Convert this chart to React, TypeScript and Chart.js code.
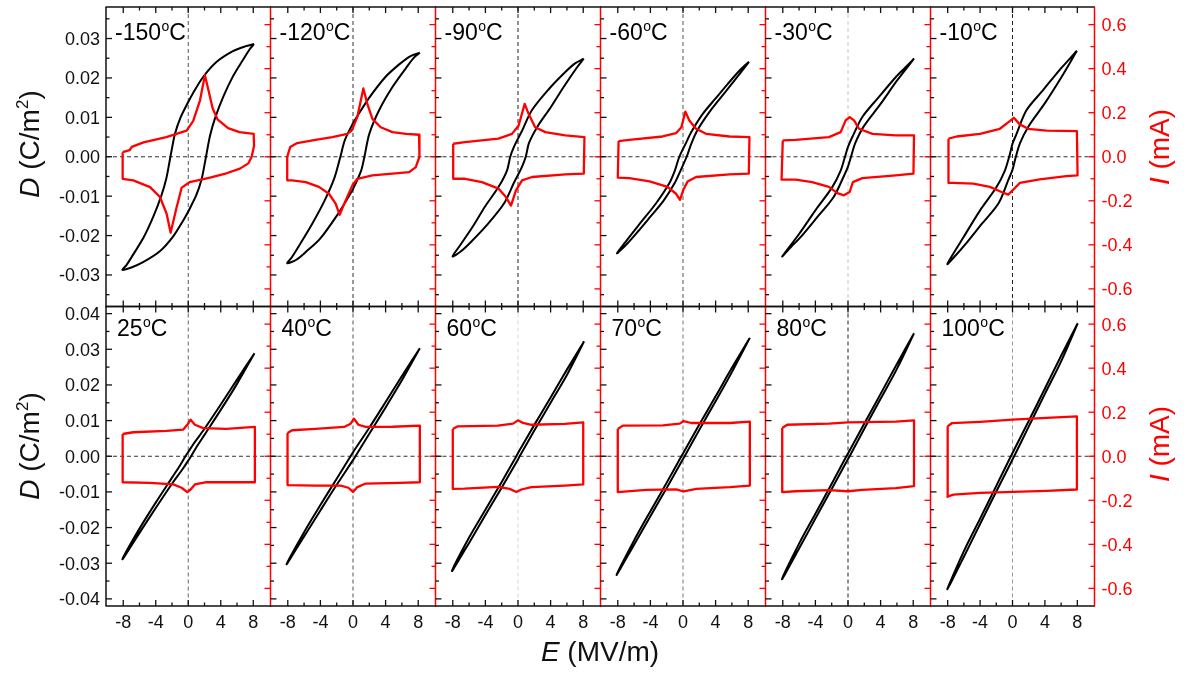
import { useEffect, useRef } from "react";
import { Chart, registerables } from "chart.js";

Chart.register(...registerables);

type Pt = [number, number];

// Temperatures of the twelve panels (°C), row by row
const TEMPERATURES = ["-150", "-120", "-90", "-60", "-30", "-10", "25", "40", "60", "70", "80", "100"];

// D–E loops: E (MV/m), D (C/m²); descending branch from +Emax, then ascending branch back
const DE_M150: Pt[] = [
  [8.1, 0.0286], [7.0, 0.028], [5.5, 0.0268], [3.5, 0.0241], [1.85, 0.0203], [0.6, 0.0162], [0, 0.0139],
  [-1.0, 0.0097], [-1.64, 0.0058], [-2.05, 0.0016], [-2.3, -0.0012], [-2.7, -0.0055], [-3.3, -0.0098],
  [-4.3, -0.0152], [-5.5, -0.0205], [-6.8, -0.0249], [-7.6, -0.0275], [-8.1, -0.0287],
  [-7.0, -0.0281], [-5.5, -0.0267], [-3.5, -0.024], [-1.85, -0.0202], [-0.6, -0.0161], [0, -0.0139],
  [1.0, -0.0097], [1.64, -0.0057], [2.05, -0.0015], [2.3, 0.0013], [2.7, 0.0055], [3.3, 0.0098],
  [4.3, 0.0152], [5.5, 0.0204], [6.8, 0.0248], [7.6, 0.0274], [8.1, 0.0286],
];
const DE_M120: Pt[] = [
  [8.2, 0.0264], [7.0, 0.0255], [5.7, 0.0235], [4.0, 0.0203], [2.0, 0.015], [0.5, 0.0102], [0, 0.0085],
  [-1.0, 0.0042], [-1.55, 0.0], [-2.3, -0.0055], [-3.5, -0.0112], [-5.0, -0.017], [-6.5, -0.0222],
  [-7.5, -0.0255], [-8.07, -0.027],
  [-7.0, -0.0262], [-5.7, -0.024], [-4.0, -0.0207], [-2.0, -0.015], [-0.5, -0.01], [0, -0.0082],
  [1.0, -0.0035], [1.4, 0.0], [2.0, 0.0058], [3.2, 0.0118], [4.84, 0.0177], [6.5, 0.0225], [7.5, 0.0252],
  [8.2, 0.0264],
];
const DE_M90: Pt[] = [
  [8.07, 0.0249], [7.0, 0.0237], [5.8, 0.0215], [3.8, 0.0172], [1.7, 0.0118], [0.5, 0.0066], [0, 0.0046],
  [-0.5, 0.0025], [-0.95, 0.0], [-1.35, -0.0035], [-2.4, -0.0077], [-4.0, -0.0125], [-5.6, -0.0179],
  [-7.25, -0.0229], [-8.03, -0.0253],
  [-7.0, -0.024], [-5.8, -0.0217], [-3.8, -0.0173], [-1.7, -0.0118], [-0.5, -0.0066], [0, -0.0046],
  [0.5, -0.0025], [0.95, 0.0], [1.35, 0.0035], [2.4, 0.0077], [4.0, 0.0125], [5.6, 0.0177], [7.25, 0.0227],
  [8.07, 0.0249],
];
const DE_M60: Pt[] = [
  [8.1, 0.0241], [7.0, 0.022], [5.5, 0.0185], [4.0, 0.0148], [2.4, 0.0108], [1.0, 0.0062], [0.3, 0.0032],
  [-0.45, 0.0], [-1.0, -0.0035], [-1.7, -0.0068], [-3.3, -0.0118], [-5.3, -0.017], [-6.9, -0.0212],
  [-8.1, -0.0245],
  [-7.0, -0.0224], [-5.5, -0.0189], [-4.0, -0.0152], [-2.4, -0.0112], [-1.0, -0.0066], [-0.3, -0.0035],
  [0.45, 0.0], [1.0, 0.0032], [1.7, 0.0065], [3.3, 0.0115], [5.3, 0.0167], [6.9, 0.0209], [8.1, 0.0241],
];
const DE_M30: Pt[] = [
  [8.1, 0.0249], [7.0, 0.0226], [5.9, 0.0203], [3.8, 0.0152], [1.76, 0.0101], [0.53, 0.005], [0, 0.0025],
  [-0.37, 0.0], [-0.9, -0.0035], [-1.93, -0.0077], [-4.0, -0.0136], [-6.0, -0.0196], [-8.07, -0.0253],
  [-7.0, -0.0229], [-5.9, -0.0206], [-3.8, -0.0154], [-1.76, -0.0102], [-0.53, -0.005], [0, -0.0025],
  [0.37, 0.0], [0.9, 0.0035], [1.93, 0.0077], [4.0, 0.0134], [6.0, 0.0193], [8.1, 0.0249],
];
const DE_M10: Pt[] = [
  [7.95, 0.0269], [7.0, 0.0247], [5.8, 0.022], [3.77, 0.0169], [1.72, 0.0118], [0.5, 0.0058], [0, 0.0033],
  [-0.41, 0.0], [-0.94, -0.0035], [-1.97, -0.0077], [-4.0, -0.0136], [-6.07, -0.0205], [-8.03, -0.0272],
  [-7.0, -0.025], [-5.8, -0.0222], [-3.77, -0.017], [-1.72, -0.0118], [-0.5, -0.0058], [0, -0.0033],
  [0.41, 0.0], [0.94, 0.0035], [1.97, 0.0077], [4.0, 0.0136], [6.07, 0.0203], [7.95, 0.0269],
];
const DE_25: Pt[] = [
  [8.15, 0.0289], [6, 0.0215], [4, 0.0145], [2, 0.0077], [0.6, 0.0033], [0, 0.0012], [-0.35, 0],
  [-1, -0.0025], [-2, -0.006], [-4, -0.013], [-6, -0.0203], [-8.1, -0.0289],
  [-6, -0.0215], [-4, -0.0145], [-2, -0.0077], [-0.6, -0.0033], [0, -0.0012], [0.35, 0], [1, 0.0025],
  [2, 0.006], [4, 0.013], [6, 0.0203], [8.15, 0.0289],
];
const DE_40: Pt[] = [
  [8.2, 0.0303], [6, 0.0225], [4, 0.0152], [2, 0.008], [0, 0.0011], [-0.3, 0], [-2, -0.0063], [-4, -0.0137],
  [-6, -0.0213], [-8.15, -0.0303],
  [-6, -0.0225], [-4, -0.0152], [-2, -0.008], [0, -0.0011], [0.3, 0], [2, 0.0063], [4, 0.0137], [6, 0.0213],
  [8.2, 0.0303],
];
const DE_60: Pt[] = [
  [8.1, 0.0322], [6, 0.0243], [4, 0.0165], [2, 0.0088], [0, 0.0009], [-0.2, 0], [-2, -0.0072], [-4, -0.015],
  [-6, -0.0228], [-8.1, -0.0322],
  [-6, -0.0243], [-4, -0.0165], [-2, -0.0088], [0, -0.0009], [0.2, 0], [2, 0.0072], [4, 0.015], [6, 0.0228],
  [8.1, 0.0322],
];
const DE_70: Pt[] = [
  [8.2, 0.0332], [6, 0.0248], [4, 0.0168], [2, 0.0089], [0, 0.0008], [-0.2, 0], [-2, -0.0074], [-4, -0.0154],
  [-6, -0.0236], [-8.15, -0.0333],
  [-6, -0.0248], [-4, -0.0168], [-2, -0.0089], [0, -0.0008], [0.2, 0], [2, 0.0074], [4, 0.0154], [6, 0.0236],
  [8.2, 0.0332],
];
const DE_80: Pt[] = [
  [8.1, 0.0345], [6, 0.0259], [4, 0.0175], [2, 0.0092], [0, 0.0008], [-0.2, 0], [-2, -0.0077], [-4, -0.0161],
  [-6, -0.0245], [-8.1, -0.0345],
  [-6, -0.0259], [-4, -0.0175], [-2, -0.0092], [0, -0.0008], [0.2, 0], [2, 0.0077], [4, 0.0161], [6, 0.0245],
  [8.1, 0.0345],
];
const DE_100: Pt[] = [
  [8.05, 0.0373], [6, 0.0282], [4, 0.019], [2, 0.0099], [0, 0.0009], [-0.2, 0], [-2, -0.0083], [-4, -0.0175],
  [-6, -0.0266], [-8.05, -0.0373],
  [-6, -0.0282], [-4, -0.019], [-2, -0.0099], [0, -0.0009], [0.2, 0], [2, 0.0083], [4, 0.0175], [6, 0.0266],
  [8.05, 0.0373],
];

// I–E loops: E (MV/m), I (mA); positive branch left to right, negative branch back
const IE_M150: Pt[] = [
  [-8.07, 0.021], [-7.2, 0.03], [-6.95, 0.045], [-5.5, 0.065], [-2.7, 0.089], [-0.2, 0.119], [0.6, 0.162],
  [1.44, 0.255], [2.05, 0.37], [2.5, 0.3], [3.0, 0.22], [3.6, 0.17], [4.9, 0.13], [6.3, 0.112], [8.05, 0.104],
  [8.1, 0.05], [7.8, 0.0],
  [7.4, -0.03], [6.36, -0.054], [4.7, -0.075], [2.67, -0.095], [0.2, -0.115], [-0.8, -0.14], [-1.43, -0.229],
  [-2.17, -0.345], [-2.66, -0.259], [-3.48, -0.183], [-4.7, -0.138], [-6.77, -0.107], [-8.07, -0.1],
  [-8.07, 0.021],
];
const IE_M120: Pt[] = [
  [-8.07, 0.0], [-7.7, 0.044], [-6.84, 0.062], [-4.6, 0.077], [-2.54, 0.089], [-0.7, 0.104], [-0.16, 0.119],
  [0.53, 0.18], [1.27, 0.31], [1.76, 0.24], [2.38, 0.172], [3.4, 0.134], [4.84, 0.112], [6.5, 0.104],
  [8.1, 0.1], [8.2, 0.06], [8.1, 0.0],
  [7.7, -0.047], [6.9, -0.07], [4.84, -0.077], [2.38, -0.085], [0.53, -0.1], [-0.08, -0.13], [-0.9, -0.198],
  [-1.64, -0.264], [-2.13, -0.213], [-2.95, -0.168], [-4.18, -0.137], [-5.8, -0.115], [-7.46, -0.107],
  [-8.07, -0.107], [-8.07, 0.0],
];
const IE_M90: Pt[] = [
  [-7.95, 0.059], [-6.5, 0.066], [-2.4, 0.082], [-0.74, 0.104], [0.08, 0.142], [0.82, 0.24], [1.3, 0.195],
  [2.1, 0.134], [3.36, 0.112], [5.8, 0.097], [8.15, 0.089], [8.07, -0.077],
  [5.8, -0.08], [1.72, -0.092], [0.5, -0.107], [-0.25, -0.153], [-0.86, -0.222], [-1.48, -0.183],
  [-2.38, -0.145], [-4.43, -0.115], [-6.48, -0.1], [-7.95, -0.1], [-7.95, 0.059],
];
const IE_M60: Pt[] = [
  [-7.9, 0.071], [-6.6, 0.077], [-2.5, 0.092], [-0.86, 0.107], [-0.2, 0.134], [0.29, 0.205], [0.78, 0.165],
  [1.6, 0.127], [2.83, 0.104], [5.7, 0.092], [8.15, 0.089], [8.07, -0.077],
  [5.7, -0.08], [1.6, -0.092], [0.57, -0.112], [0.04, -0.15], [-0.37, -0.196], [-0.86, -0.168],
  [-1.9, -0.137], [-4.1, -0.112], [-6.6, -0.097], [-8.0, -0.095], [-7.9, 0.071],
];
const IE_M30: Pt[] = [
  [-8.0, 0.074], [-6.43, 0.077], [-2.34, 0.089], [-0.9, 0.112], [-0.29, 0.165], [0.2, 0.18], [0.74, 0.165],
  [1.35, 0.127], [3.0, 0.104], [5.86, 0.097], [8.1, 0.097], [8.03, -0.077],
  [5.86, -0.085], [1.76, -0.097], [0.6, -0.115], [0.2, -0.16], [-0.5, -0.175], [-1.3, -0.165],
  [-2.34, -0.137], [-4.4, -0.115], [-6.43, -0.104], [-8.15, -0.104], [-8.0, 0.074],
];
const IE_M10: Pt[] = [
  [-7.9, 0.082], [-6.9, 0.092], [-4.0, 0.104], [-1.56, 0.127], [-0.33, 0.162], [0.16, 0.177], [0.9, 0.147],
  [1.93, 0.127], [4.2, 0.119], [7.95, 0.116], [8.03, -0.085],
  [6.64, -0.088], [3.36, -0.103], [0.9, -0.119], [0.08, -0.15], [-0.53, -0.172], [-1.35, -0.16],
  [-2.8, -0.137], [-4.84, -0.122], [-7.3, -0.119], [-7.9, -0.119], [-7.9, 0.082],
];
const IE_25: Pt[] = [
  [-8.07, 0.101], [-6.76, 0.109], [-2.66, 0.115], [-0.61, 0.121], [-0.12, 0.143], [0.29, 0.166], [0.82, 0.143],
  [1.84, 0.128], [4.7, 0.124], [8.2, 0.133], [8.2, -0.118],
  [5.53, -0.118], [2.25, -0.118], [0.82, -0.128], [0.29, -0.151], [-0.12, -0.163], [-0.82, -0.143],
  [-1.84, -0.128], [-4.7, -0.121], [-8.07, -0.118], [-8.07, 0.101],
];
const IE_40: Pt[] = [
  [-8.03, 0.106], [-7.46, 0.118], [-4.6, 0.124], [-1.1, 0.133], [-0.29, 0.148], [0.12, 0.171], [0.66, 0.143],
  [1.56, 0.133], [4.84, 0.134], [8.2, 0.139], [8.2, -0.118],
  [5.66, -0.121], [1.56, -0.124], [0.53, -0.14], [0, -0.162], [-0.57, -0.143], [-1.52, -0.133],
  [-4.6, -0.133], [-8.03, -0.131], [-8.03, 0.106],
];
const IE_60: Pt[] = [
  [-8.0, 0.124], [-7.38, 0.136], [-2.46, 0.139], [-0.61, 0.148], [0, 0.163], [0.61, 0.151], [1.64, 0.143],
  [5.74, 0.147], [8.0, 0.154], [8.0, -0.128],
  [5.74, -0.133], [1.64, -0.14], [0.41, -0.151], [-0.2, -0.162], [-1.02, -0.148], [-2.46, -0.139],
  [-6.56, -0.147], [-8.0, -0.148], [-8.0, 0.124],
];
const IE_70: Pt[] = [
  [-8.0, 0.124], [-7.38, 0.139], [-2.46, 0.14], [-0.41, 0.148], [0.08, 0.16], [1.02, 0.151], [5.74, 0.151],
  [8.2, 0.157], [8.2, -0.133],
  [5.74, -0.14], [1.64, -0.148], [0.08, -0.16], [-0.82, -0.15], [-4.5, -0.153], [-8.0, -0.163], [-8.0, 0.124],
];
const IE_80: Pt[] = [
  [-8.07, 0.128], [-7.46, 0.143], [-2.34, 0.148], [0, 0.154], [5.86, 0.157], [8.1, 0.163], [8.1, -0.136],
  [5.86, -0.145], [1.76, -0.153], [0, -0.159], [-2.34, -0.154], [-6.43, -0.159], [-8.07, -0.163],
  [-8.07, 0.128],
];
const IE_100: Pt[] = [
  [-8.0, 0.136], [-7.5, 0.15], [-4.0, 0.156], [0, 0.166], [4.2, 0.174], [7.95, 0.181], [7.95, -0.151],
  [4.2, -0.157], [0.08, -0.162], [-4.0, -0.166], [-7.3, -0.174], [-8.03, -0.184], [-8.0, 0.136],
];

const DE_LOOPS = [DE_M150, DE_M120, DE_M90, DE_M60, DE_M30, DE_M10, DE_25, DE_40, DE_60, DE_70, DE_80, DE_100];
const IE_LOOPS = [IE_M150, IE_M120, IE_M90, IE_M60, IE_M30, IE_M10, IE_25, IE_40, IE_60, IE_70, IE_80, IE_100];

// Axis ticks
const E_TICKS = [-8, -4, 0, 4, 8];
const E_MINOR = [-6, -2, 2, 6];
const D_TICKS_TOP = [-0.03, -0.02, -0.01, 0, 0.01, 0.02, 0.03];
const D_TICKS_BOTTOM = [-0.04, -0.03, -0.02, -0.01, 0, 0.01, 0.02, 0.03, 0.04];
const D_MINOR = [-0.035, -0.025, -0.015, -0.005, 0.005, 0.015, 0.025, 0.035];
const I_TICKS = [-0.6, -0.4, -0.2, 0, 0.2, 0.4, 0.6];
const I_MINOR = [-0.5, -0.3, -0.1, 0.1, 0.3, 0.5];

// Axis ranges
const E_RANGE = 10.12;
const D_RANGE_TOP = 0.038;
const D_RANGE_BOTTOM = 0.042;
const I_RANGE = 0.68;

// Figure layout (px)
const W = 1184;
const H = 675;
const COL_EDGES = [106, 270.5, 435.5, 600.5, 765.5, 930.5, 1094.5];
const ROW_EDGES = [7, 306.5, 606];
const RED = "#ff0000";
const INK = "#111111";
const FONT = '"Liberation Sans", Arial, Helvetica, sans-serif';
const ZERO_V_SHADES = ["#555", "#333", "#222", "#555", "#c8c8c8", "#222", "#666", "#555", "#d8d8d8", "#777", "#222", "#999"];

function line(ctx: CanvasRenderingContext2D, x1: number, y1: number, x2: number, y2: number) {
  ctx.beginPath();
  ctx.moveTo(x1, y1);
  ctx.lineTo(x2, y2);
  ctx.stroke();
}

function panelPlugin(idx: number) {
  const row = Math.floor(idx / 6);
  const col = idx % 6;
  const dTicks = row === 0 ? D_TICKS_TOP : D_TICKS_BOTTOM;
  return {
    id: "panelFrame" + idx,
    beforeDatasetsDraw(chart: any) {
      const { ctx, chartArea: a, scales } = chart;
      const x0 = scales.x.getPixelForValue(0);
      const y0 = scales.yD.getPixelForValue(0);
      ctx.save();
      ctx.lineWidth = 1;
      ctx.setLineDash([4, 3]);
      ctx.strokeStyle = "#333";
      line(ctx, a.left, y0, a.right, y0);
      ctx.strokeStyle = ZERO_V_SHADES[idx];
      line(ctx, x0, a.top, x0, a.bottom);
      ctx.restore();
    },
    afterDatasetsDraw(chart: any) {
      const { ctx, chartArea: a, scales } = chart;
      const xs = scales.x;
      const yd = scales.yD;
      const yi = scales.yI;
      ctx.save();
      ctx.setLineDash([]);
      ctx.lineWidth = 1.3;

      // E ticks on top and bottom edges, pointing inward
      ctx.strokeStyle = INK;
      for (const v of E_TICKS) {
        const px = xs.getPixelForValue(v);
        line(ctx, px, a.top, px, a.top + 6);
        line(ctx, px, a.bottom, px, a.bottom - 6);
      }
      for (const v of E_MINOR) {
        const px = xs.getPixelForValue(v);
        line(ctx, px, a.top, px, a.top + 3.5);
        line(ctx, px, a.bottom, px, a.bottom - 3.5);
      }
      // D ticks on the left edge
      for (const v of dTicks) {
        const py = yd.getPixelForValue(v);
        line(ctx, a.left, py, a.left + 6, py);
      }
      for (const v of D_MINOR) {
        const py = yd.getPixelForValue(v);
        line(ctx, a.left, py, a.left + 3.5, py);
      }
      // I ticks on the right edge
      ctx.strokeStyle = RED;
      for (const v of I_TICKS) {
        const py = yi.getPixelForValue(v);
        line(ctx, a.right, py, a.right - 6, py);
      }
      for (const v of I_MINOR) {
        const py = yi.getPixelForValue(v);
        line(ctx, a.right, py, a.right - 4, py);
      }

      // Frame
      ctx.lineWidth = 1.5;
      ctx.strokeStyle = INK;
      line(ctx, a.left - 0.5, a.top, a.right + 0.5, a.top);
      line(ctx, a.left - 0.5, a.bottom, a.right + 0.5, a.bottom);
      if (col === 0) line(ctx, a.left, a.top, a.left, a.bottom);
      ctx.strokeStyle = RED;
      line(ctx, a.right, a.top, a.right, a.bottom);

      // Tick labels
      ctx.font = `18px ${FONT}`;
      if (col === 0) {
        ctx.fillStyle = INK;
        ctx.textAlign = "right";
        for (const v of dTicks) ctx.fillText(v.toFixed(2), a.left - 6, yd.getPixelForValue(v) + 6.4);
      }
      if (col === 5) {
        ctx.fillStyle = RED;
        ctx.textAlign = "left";
        for (const v of I_TICKS) ctx.fillText(v.toFixed(1), a.right + 7, yi.getPixelForValue(v) + 6.4);
      }
      if (row === 1) {
        ctx.fillStyle = INK;
        ctx.textAlign = "center";
        for (const v of E_TICKS) ctx.fillText(String(v), xs.getPixelForValue(v), a.bottom + 22);
      }

      // Panel temperature
      const t = TEMPERATURES[idx];
      const bx = a.left + (row === 0 ? 9 : 11);
      const by = a.top + (row === 0 ? 33 : 29.5);
      ctx.fillStyle = "#000";
      ctx.textAlign = "left";
      ctx.font = `23px ${FONT}`;
      ctx.fillText(t, bx, by);
      let w = ctx.measureText(t).width + 0.5;
      ctx.font = `14px ${FONT}`;
      ctx.fillText("o", bx + w, by - 9.5);
      w += ctx.measureText("o").width;
      ctx.font = `23px ${FONT}`;
      ctx.fillText("C", bx + w, by);
      ctx.restore();
    },
  };
}

function panelConfig(idx: number): any {
  const row = Math.floor(idx / 6);
  const col = idx % 6;
  const left = COL_EDGES[col];
  const right = COL_EDGES[col + 1];
  const top = ROW_EDGES[row];
  const bottom = ROW_EDGES[row + 1];
  const dRange = row === 0 ? D_RANGE_TOP : D_RANGE_BOTTOM;
  return {
    type: "scatter",
    data: {
      datasets: [
        {
          data: IE_LOOPS[idx].map(([x, y]) => ({ x, y })),
          yAxisID: "yI",
          showLine: true,
          borderColor: RED,
          borderWidth: 2.3,
          borderJoinStyle: "round",
          pointRadius: 0,
          tension: 0,
          fill: false,
        },
        {
          data: DE_LOOPS[idx].map(([x, y]) => ({ x, y })),
          yAxisID: "yD",
          showLine: true,
          borderColor: "#000",
          borderWidth: 2,
          borderJoinStyle: "round",
          pointRadius: 0,
          tension: 0.3,
          fill: false,
        },
      ],
    },
    options: {
      animation: false,
      responsive: false,
      maintainAspectRatio: false,
      devicePixelRatio: 1,
      events: [],
      layout: { padding: { left, top, right: W - right, bottom: H - bottom } },
      plugins: { legend: { display: false }, tooltip: { enabled: false }, title: { display: false } },
      scales: {
        x: { type: "linear", min: -E_RANGE, max: E_RANGE, display: false },
        yD: { type: "linear", position: "left", min: -dRange, max: dRange, display: false },
        yI: { type: "linear", position: "right", min: -I_RANGE, max: I_RANGE, display: false },
      },
    },
    plugins: [panelPlugin(idx)],
  };
}

const titleBase: any = {
  position: "absolute",
  fontFamily: FONT,
  fontSize: 28,
  lineHeight: "32px",
  whiteSpace: "nowrap",
};
const supStyle: any = { fontSize: 17, position: "relative", top: -11, verticalAlign: "baseline" };

function RotatedTitle({ x, y, color, children }: { x: number; y: number; color: string; children: any }) {
  return (
    <div style={{ ...titleBase, left: x, top: y, color, transform: "translate(-50%, -50%) rotate(-90deg)" }}>
      {children}
    </div>
  );
}

export default function App() {
  const canvasRefs = useRef<(HTMLCanvasElement | null)[]>([]);

  useEffect(() => {
    const charts = TEMPERATURES.map((_, i) => new Chart(canvasRefs.current[i] as HTMLCanvasElement, panelConfig(i)));
    return () => charts.forEach((c) => c.destroy());
  }, []);

  return (
    <div style={{ position: "absolute", left: 0, top: 0, width: W, height: H, background: "#fff", overflow: "hidden" }}>
      {TEMPERATURES.map((t, i) => (
        <canvas
          key={t}
          ref={(el) => {
            canvasRefs.current[i] = el;
          }}
          width={W}
          height={H}
          style={{ position: "absolute", left: 0, top: 0, width: W, height: H }}
        />
      ))}
      <RotatedTitle x={32} y={144} color={INK}>
        <i>D</i> (C/m<span style={supStyle}>2</span>)
      </RotatedTitle>
      <RotatedTitle x={32} y={446} color={INK}>
        <i>D</i> (C/m<span style={supStyle}>2</span>)
      </RotatedTitle>
      <RotatedTitle x={1160} y={147} color={RED}>
        <i>I</i> (mA)
      </RotatedTitle>
      <RotatedTitle x={1160} y={444} color={RED}>
        <i>I</i> (mA)
      </RotatedTitle>
      <div style={{ ...titleBase, left: 600, top: 652, color: INK, transform: "translate(-50%, -50%)" }}>
        <i>E</i> (MV/m)
      </div>
    </div>
  );
}
